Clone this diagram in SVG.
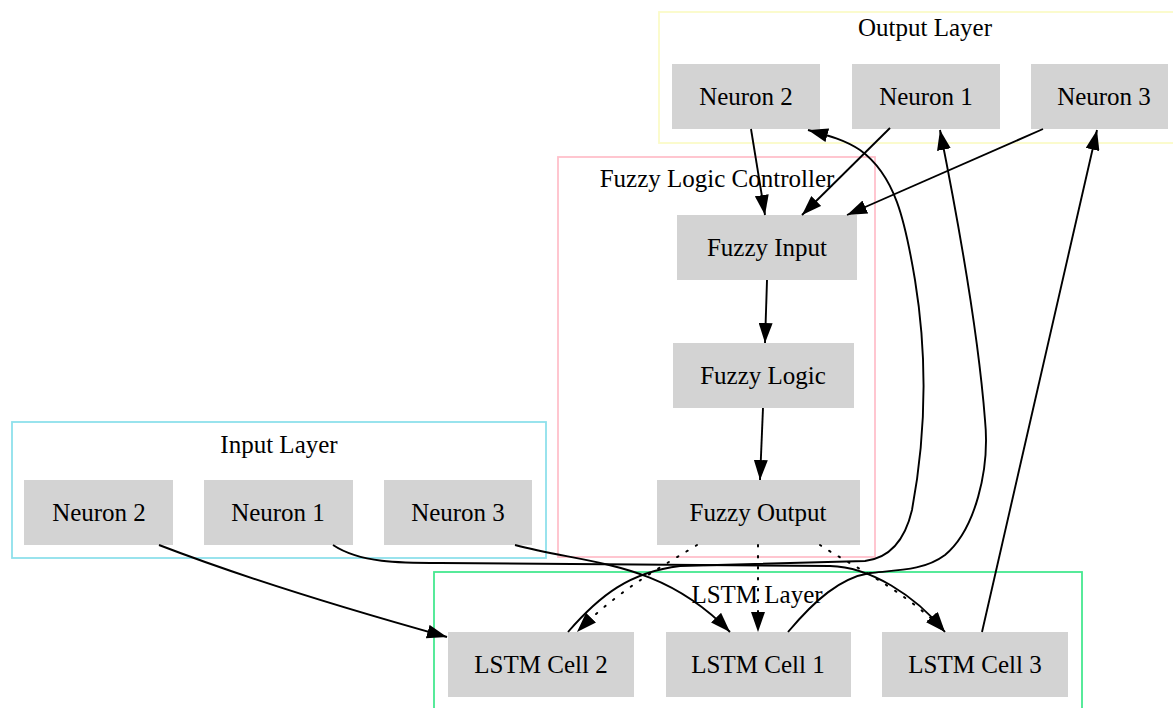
<svg xmlns="http://www.w3.org/2000/svg" width="1173" height="708" viewBox="0 0 1173 708">
<style>
text{font-family:"Liberation Serif","Times New Roman",serif;font-size:25px;fill:#000;text-anchor:middle}
.node rect{fill:#d3d3d3;stroke:none}
.cl{fill:none;stroke-width:1.8}
.e{fill:none;stroke:#000;stroke-width:1.9}
.d{fill:none;stroke:#000;stroke-width:2;stroke-dasharray:1.5 9.5;stroke-linecap:round}
</style>
<defs>
<marker id="ah" viewBox="0 0 20 14" refX="20" refY="7" markerWidth="20" markerHeight="14" markerUnits="userSpaceOnUse" orient="auto">
<path d="M0,0 L20,7 L0,14 z" fill="#000"/>
</marker>
</defs>
<rect width="1173" height="708" fill="#fff"/>
<g id="clusters">
<g id="cluster_output"><rect class="cl" x="659" y="12" width="540" height="131" stroke="#fbfbc8"/><text x="925" y="36">Output Layer</text></g>
<g id="cluster_fuzzy"><rect class="cl" x="558" y="157" width="317" height="400" stroke="#ffc0cb"/><text x="717" y="187">Fuzzy Logic Controller</text></g>
<g id="cluster_input"><rect class="cl" x="12" y="422" width="534" height="136" stroke="#8ee0ec"/><text x="279" y="453">Input Layer</text></g>
<g id="cluster_lstm"><rect class="cl" x="434" y="572" width="648" height="150" stroke="#45e890"/><text x="757" y="603">LSTM Layer</text></g>
</g>
<g id="out_n2" class="node"><rect x="672" y="64" width="148" height="65"/><text x="746" y="105">Neuron 2</text></g>
<g id="out_n1" class="node"><rect x="852" y="64" width="148" height="65"/><text x="926" y="105">Neuron 1</text></g>
<g id="out_n3" class="node"><rect x="1031" y="64" width="137" height="65"/><text x="1104" y="105">Neuron 3</text></g>
<g id="fuzzy_input" class="node"><rect x="677" y="215" width="180" height="65"/><text x="767" y="256">Fuzzy Input</text></g>
<g id="fuzzy_logic" class="node"><rect x="673" y="343" width="181" height="65"/><text x="763" y="384">Fuzzy Logic</text></g>
<g id="fuzzy_output" class="node"><rect x="657" y="480" width="203" height="65"/><text x="758" y="521">Fuzzy Output</text></g>
<g id="in_n2" class="node"><rect x="24" y="480" width="149" height="65"/><text x="99" y="521">Neuron 2</text></g>
<g id="in_n1" class="node"><rect x="204" y="480" width="149" height="65"/><text x="278" y="521">Neuron 1</text></g>
<g id="in_n3" class="node"><rect x="384" y="480" width="148" height="65"/><text x="458" y="521">Neuron 3</text></g>
<g id="lstm2" class="node"><rect x="448" y="632" width="186" height="65"/><text x="541" y="673">LSTM Cell 2</text></g>
<g id="lstm1" class="node"><rect x="666" y="632" width="185" height="65"/><text x="758" y="673">LSTM Cell 1</text></g>
<g id="lstm3" class="node"><rect x="882" y="632" width="186" height="65"/><text x="975" y="673">LSTM Cell 3</text></g>
<g id="connectors">
<path class="e" d="M751,129 L765,215" marker-end="url(#ah)"/>
<path class="e" d="M890,128 L802,215" marker-end="url(#ah)"/>
<path class="e" d="M1043,129 L847,215" marker-end="url(#ah)"/>
<path class="e" d="M767,280 L765,343" marker-end="url(#ah)"/>
<path class="e" d="M763,408 L760,480" marker-end="url(#ah)"/>
<path class="d" d="M697,545 C670,562 620,588 577,632" marker-end="url(#ah)"/>
<path class="d" d="M758,545 L758,632" marker-end="url(#ah)"/>
<path class="d" d="M820,545 C850,565 905,590 945,632" marker-end="url(#ah)"/>
<path class="e" d="M159,545 C250,580 350,610 447,637" marker-end="url(#ah)"/>
<path class="e" d="M515,545 C590,565 660,560 730,632" marker-end="url(#ah)"/>
<path class="e" d="M333,545 C360,563 400,563 440,563 L830,566 C870,567 915,595 945,632" marker-end="url(#ah)"/>
<path class="e" d="M568,632 C600,595 630,572 680,566 L865,561 C890,558 905,540 912,510 C925,440 928,360 915,280 C905,220 895,175 860,150 C845,140 830,136 808,130" marker-end="url(#ah)"/>
<path class="e" d="M788,632 C815,600 840,578 870,573 C900,570 925,570 945,555 C975,530 990,470 985,420 C978,330 960,230 940,130" marker-end="url(#ah)"/>
<path class="e" d="M982,632 L1097,130" marker-end="url(#ah)"/>
</g>
</svg>
